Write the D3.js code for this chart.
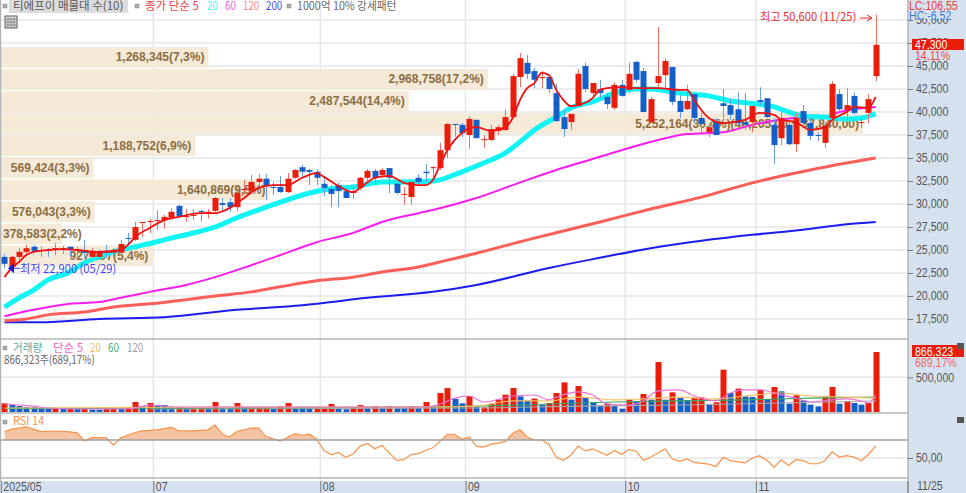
<!DOCTYPE html>
<html>
<head>
<meta charset="utf-8">
<script src="https://cdn.jsdelivr.net/npm/d3@7"></script>
<style>
  html, body { margin: 0; padding: 0; background: #fff; overflow: hidden; }
  svg { display: block; }
  text { font-family: "Liberation Sans", "Noto Sans CJK KR", sans-serif; }
  .axis path { display: none; }
  .axis line { stroke: #777; }
  .axis text { fill: #555; font-size: 12px; }
</style>
</head>
<body>
<div id="chart"></div>
<script>
// ### daily candles ###
const opens = [24250,23150,24250,24800,25350,25000,25000,25100,25100,25350,
  24900,25000,24250,24250,24900,24700,24700,26300,26100,27950,
  28050,28150,28250,28500,29800,28600,28700,29250,29050,29250,
  30100,30200,29650,31500,31400,32400,32750,31850,31850,31300,
  32850,34000,33700,33500,32200,31650,32050,31400,31200,31750,
  32850,33600,33150,33900,32200,31000,30750,32850,33500,33900,
  33900,35850,38700,38600,37500,39150,36950,36950,37950,38050,
  39450,43800,45350,44450,43700,43800,42050,39450,38900,40650,
  45000,42050,42500,41650,40450,42950,42400,45450,44450,38900,
  43150,44000,44900,41200,40300,41950,39350,37800,38900,40950,
  40750,40300,38900,38900,41300,41500,38600,37150,38600,36500,
  40100,38800,37500,36650,39350,41950,40200,41750,38800,39900,43900];
const highs = [24550,24350,25200,25550,25550,25350,25200,25750,25450,25350,
  25350,26100,25200,25100,25550,25200,26100,26850,28050,28050,
  28400,29350,28800,29550,29900,29450,29450,29350,29450,30750,
  30650,30650,31750,32600,33150,33250,33250,32400,33050,33350,
  33800,34250,33800,33800,32850,32050,32300,31650,32050,32950,
  33800,33800,33900,33900,32300,31850,32400,33250,34350,34150,
  36650,38800,38700,38800,39550,39150,37500,38600,38600,40300,
  44150,46400,46200,44800,44450,43800,43050,40200,39800,44650,
  45350,43150,43500,42050,43250,43500,45350,45550,44800,41650,
  49250,45850,44900,41850,42950,41950,39900,38800,39350,42500,
  41500,42150,42050,40650,42700,41500,39350,40000,39350,39900,
  40750,39350,37800,38900,43350,42500,42600,42150,39450,41950,50600];
const lows = [23000,22900,23900,24450,24700,24250,24250,24450,24550,24250,
  24250,24150,24150,23900,24150,24250,24450,25550,26000,26400,
  26850,27200,27300,28500,28700,28050,28250,28050,28400,29150,
  29150,29150,29250,31000,31300,31500,30450,31000,31200,31200,
  32750,32850,32050,32050,30850,29650,29650,30650,30550,31500,
  32400,32050,32850,31200,31000,29900,29900,32050,32400,32850,
  33700,35000,37300,37300,36000,37150,36100,36850,37500,37950,
  39350,42700,43600,42600,42600,42050,39000,37300,38050,40650,
  42150,41500,41500,40300,40200,41650,42050,43250,40000,38800,
  42500,42600,40750,39350,40200,38800,37700,37300,37500,39350,
  39150,38600,38050,37800,40750,39350,34350,36400,36400,35650,
  38600,36950,36850,36100,39150,40000,39150,39700,38250,38800,43350];
const closes = [23500,24250,24800,25200,24900,24900,24900,25200,25200,25000,
  25000,24700,24900,24800,24700,24900,25650,26200,27500,28050,
  28150,28250,28600,29150,28700,28700,28800,29150,29150,30650,
  29900,29650,31200,31650,32400,32750,31950,31750,31300,32750,
  33700,33500,33500,32850,31750,31100,31400,30650,31400,32850,
  33600,32850,33700,32850,31200,31100,32400,32400,33350,34000,
  35850,38700,38600,37700,39250,37150,37050,38150,38350,39450,
  43900,45850,44150,43500,43800,42500,39000,38150,39800,44150,
  42500,43150,42050,40850,42950,41750,44150,43500,40000,41400,
  43900,45550,41100,40000,41200,39350,38700,38350,37500,40650,
  39700,38800,38600,40650,41100,39450,36400,39350,36500,39350,
  38800,37400,37400,38500,43050,40300,40750,39900,38900,41400,47300];

// moving averages: candle index + price, only where read
const ma5Idx = [0,1,2,3,4,6,8,10,13,16,17,18,20,22,24,27,29,31,33,35,37,39,41,43,44,46,48,49,51,53,55,57,58,59,60,61,62,63,64,65,67,69,70,71,72,73,74,75,76,77,78,79,81,82,83,85,87,90,93,94,95,96,97,99,102,104,106,107,109,111,113,114,116,117,119,120];
const ma5 = [22050,23050,23700,24450,24800,25000,25100,25000,24800,25000,25550,26400,27400,28250,28600,29000,29000,29550,30650,31750,32050,32050,32850,33350,32950,31950,31300,31750,32850,33050,32300,32050,32050,32600,34250,35850,36950,37700,38250,38350,37950,38350,39350,41300,42600,43150,44250,44000,42400,41300,40650,40750,41500,42400,42600,42700,42600,42600,42400,42400,41300,40200,39350,38800,39150,39900,39700,39150,38900,38050,38350,39150,40000,40550,40450,41650];
const ma20Idx = [0,2,4,6,9,11,13,15,18,21,23,26,29,32,36,38,42,45,48,52,55,59,63,66,69,71,73,76,78,81,84,87,89,93,97,100,104,106,108,110,113,116,118,120];
const ma20 = [18800,19800,20650,21750,22600,23600,24250,24800,25350,25900,26300,26850,27500,28500,29650,30200,31200,31650,31850,32400,32400,32500,33500,34450,35550,36750,38050,39450,40450,41100,42050,42500,42500,42050,41750,41200,40850,40550,40000,39550,39450,39250,39350,39800];
const ma60Idx = [0,4,9,13,16,20,25,29,34,38,43,48,52,57,59,65,70,76,80,85,90,94,99,103,109,113,115,120];
const ma60 = [17800,18500,19150,19350,19800,20450,21200,22050,23350,24450,25850,26850,28050,29000,29350,30650,32050,33700,34650,35850,36950,37600,37800,38600,39350,39450,40000,40550];
const ma120Idx = [0,3,6,11,15,20,25,29,34,38,43,48,52,57,61,65,72,82,89,96,103,111,116,120];
const ma120 = [17300,17500,17950,18250,18800,19150,19600,20000,20450,21000,21650,22050,22600,23150,23900,24650,26100,28050,29450,30750,32300,33700,34450,35000];
const ma200Idx = [0,5,13,22,32,41,50,59,65,75,82,89,96,103,110,116,120];
const ma200 = [17150,17150,17500,17700,18500,19000,19800,20450,21200,23050,24150,25200,26000,26650,27200,27800,28050];

// volume profile rows, top to bottom
const profileVol = [1268345,2968758,2487544,5252164,1188752,569424,1640869,576043,378583,927097];
const profileLabels = ["1,268,345(7,3%)","2,968,758(17,2%)","2,487,544(14,4%)","5,252,164(30,4%)(40,205,00 ~ 37,840,00)","1,188,752(6,9%)","569,424(3,3%)","1,640,869(9,5%)","576,043(3,3%)","378,583(2,2%)","927,097(5,4%)"];

// volume
const volumes = [125000,100000,85000,72000,72000,55000,55000,45000,45000,45000,
  45000,45000,35000,35000,45000,45000,45000,70000,145000,85000,
  130000,100000,100000,70000,70000,55000,55000,55000,55000,145000,
  55000,55000,130000,75000,70000,70000,70000,45000,85000,130000,
  65000,68000,68000,68000,68000,115000,58000,40000,68000,100000,
  58000,85000,58000,85000,58000,58000,85000,58000,145000,85000,
  275000,345000,190000,125000,230000,72000,67000,120000,178000,250000,
  347000,226000,164000,193000,106000,130000,274000,428000,178000,375000,
  212000,140000,91000,120000,91000,48000,188000,154000,260000,178000,
  722000,178000,284000,202000,173000,202000,212000,106000,140000,611000,
  274000,337000,226000,217000,322000,188000,361000,298000,120000,240000,
  168000,106000,82000,226000,361000,120000,154000,130000,106000,130000,866323];
const volUp = [1,0,0,0,0,0,0,1,0,1,0,1,0,0,1,1,0,1,1,0,1,0,0,0,1,0,1,1,0,1,0,0,1,0,1,1,1,0,1,1,
  0,0,0,1,1,1,0,0,1,1,0,1,0,1,0,0,1,0,1,0,1,1,0,0,1,0,1,1,1,1,1,0,0,1,0,1,1,1,0,1,
  0,0,0,1,0,0,1,0,1,0,1,0,1,0,0,1,1,0,1,1,0,1,0,0,1,0,1,0,0,1,0,0,0,1,1,0,1,0,0,1,1];
const vma5Idx = [0,2,4,6,10,16,18,20,24,28,58,60,62,64,66,70,73,75,76,79,81,83,86,88,90,93,95,98,100,102,104,107,109,111,114,116,118,119,120];
const vma5 = [115000,100000,85000,58000,43000,43000,58000,100000,72000,72000,72000,115000,200000,230000,145000,230000,245000,175000,215000,290000,245000,115000,100000,160000,305000,320000,230000,160000,275000,320000,320000,245000,200000,145000,175000,190000,160000,130000,245000];
const vma20Idx = [0,30,58,65,70,75,79,84,88,93,98,102,107,111,116,120];
const vma20 = [58000,72000,72000,85000,160000,160000,215000,175000,190000,215000,190000,230000,275000,230000,215000,200000];
const vma60Idx = [0,30,58,65,75,84,93,102,111,120];
const vma60 = [50000,58000,72000,85000,115000,145000,160000,175000,200000,215000];
const vma120Idx = [20,65,79,93,107,120];
const vma120 = [43000,58000,85000,100000,130000,160000];

// RSI 14
const rsiIdx = [0,1,3,5,7,9,10,11,12,14,15,16,18,19,21,23,24,26,28,29,30,31,32,34,35,36,38,40,41,42,43,44,45,46,47,48,49,50,51,52,53,54,55,56,57,58,59,61,62,63,64,65,66,67,69,70,71,72,73,74,75,76,77,78,79,80,81,83,84,85,86,87,88,89,91,92,93,94,95,97,98,99,100,102,103,104,105,106,107,108,109,110,111,112,113,114,115,116,117,118,119,120];
const rsi = [79.4,82,84.5,79.4,80,79,78,69,72.6,72.6,64.3,72.6,78.3,80.2,81.3,84,80.2,80.2,81.3,86.6,76.4,73.4,79.4,83.2,83.2,73.8,68.9,77.2,75.3,76.4,70.8,58.3,53.8,56,50.8,54.5,63.2,66.2,60.2,64,55.7,47.4,48.1,53.8,54.9,58.3,61.3,76.4,76.4,70.8,73.4,63.2,62.1,65.1,68.1,77.5,81.3,73.4,70,70,65.1,50.8,47.4,53,63.2,57.9,60.2,53,58.3,53.8,59.4,57.5,47.4,50.8,60.2,48.9,46.2,48.9,45.1,43.2,40.6,50.8,47,44.7,50,52.6,47.4,39.8,48.1,41.7,48.1,47,43.6,43.6,47,56.8,51.1,52.6,51.1,47,53.8,63.2];

// axes
const priceTicks = [17500,20000,22500,25000,27500,30000,32500,35000,37500,40000,42500,45000,47500,50000];
const volTicks = [500000];
const rsiTicks = [50];
const monthIdx = [0,21,44,64,86,104];
const monthLabels = ["2025/05","07","08","09","10","11"];

const RED = "#ea1c0a", BLUE = "#1560c8";
const W = 966, H = 493, plotR = 908;
const n = opens.length;

const svg = d3.select("#chart").append("svg").attr("width", W).attr("height", H);

const x = d3.scaleLinear().domain([0, n]).range([0.87, 879.3]);
const yPrice = d3.scaleLinear().domain([45000, 17500]).range([66, 319]);
const yVol = d3.scaleLinear().domain([0, 866323]).range([412, 352]);
const yRsi = d3.scaleLinear().domain([50, 70]).range([458, 440]);
const profW = d3.scaleLinear().domain([0, 5252164]).range([0, 863]);
const profRow = d3.scaleBand().domain(d3.range(profileVol.length)).range([yPrice(47050), yPrice(23250)]).paddingInner(0.07);

const cx = i => x(i + 0.5);
const maLine = (yScale, idx) => d3.line().x((d, k) => cx(idx[k])).y(d => yScale(d)).curve(d3.curveMonotoneX);

// the reference font is narrower than anything installed, so pinch the glyphs
function squeeze(sel, k) {
  sel.each(function() {
    this.setAttribute("textLength", this.getComputedTextLength() * k);
    this.setAttribute("lengthAdjust", "spacingAndGlyphs");
  });
  return sel;
}

// ### right and bottom panels ###
svg.append("rect").attr("x", plotR).attr("y", 0).attr("width", W - plotR).attr("height", H).attr("fill", "#d6e1ef");
svg.append("rect").attr("x", 0).attr("y", 481).attr("width", W).attr("height", H - 481).attr("fill", "#d6e1ef");

// ### grid ###
const grid = svg.append("g").attr("stroke", "#e6e6e6").attr("stroke-width", 1.5);
priceTicks.forEach(t => {
  grid.append("line").attr("x1", 0).attr("x2", plotR).attr("y1", yPrice(t)).attr("y2", yPrice(t));
});
grid.append("line").attr("x1", 0).attr("x2", plotR).attr("y1", yVol(500000)).attr("y2", yVol(500000));
grid.append("line").attr("x1", 0).attr("x2", plotR).attr("y1", yRsi(50)).attr("y2", yRsi(50));
monthIdx.slice(1).forEach(i => {
  grid.append("line").attr("x1", x(i)).attr("x2", x(i)).attr("y1", 0).attr("y2", 481);
});

// ### volume profile ###
svg.selectAll("rect.prof").data(profileVol).enter().append("rect")
  .attr("class", "prof")
  .attr("x", 0)
  .attr("y", (d, i) => profRow(i))
  .attr("width", d => profW(d))
  .attr("height", profRow.bandwidth())
  .attr("fill", "#f5e9d8");
svg.selectAll("text.prof").data(profileVol).enter().append("text")
  .attr("class", "prof")
  .attr("y", (d, i) => profRow(i) + profRow.bandwidth() / 2 + 4)
  .attr("text-anchor", "end")
  .attr("fill", "#8c6e3e")
  .attr("font-size", 12)
  .attr("font-weight", "bold")
  .text((d, i) => profileLabels[i])
  .attr("x", function(d) { return Math.max(profW(d) - 4, this.getComputedTextLength() + 3); });

// ### price moving averages ###
const priceLines = [
  {v: ma200, idx: ma200Idx, c: "#1c1cf0", w: 2},
  {v: ma120, idx: ma120Idx, c: "#fa5f5a", w: 3},
  {v: ma60, idx: ma60Idx, c: "#fb1cf0", w: 2},
  {v: ma20, idx: ma20Idx, c: "#10f4f4", w: 5}
];
priceLines.forEach(l => {
  svg.append("path").attr("d", maLine(yPrice, l.idx)(l.v))
    .attr("fill", "none").attr("stroke", l.c).attr("stroke-width", l.w);
});

// ### candles ###
const candle = svg.selectAll("g.candle").data(d3.range(n)).enter().append("g").attr("class", "candle");
candle.append("line")
  .attr("x1", i => Math.round(cx(i)) + 0.5).attr("x2", i => Math.round(cx(i)) + 0.5)
  .attr("y1", i => yPrice(highs[i])).attr("y2", i => yPrice(lows[i]))
  .attr("stroke", i => closes[i] >= opens[i] ? "#f0706a" : "#6a9be0");
candle.append("rect")
  .attr("x", i => Math.round(cx(i)) - 2.5)
  .attr("width", 6)
  .attr("y", i => yPrice(Math.max(opens[i], closes[i])))
  .attr("height", i => Math.max(1, Math.abs(yPrice(opens[i]) - yPrice(closes[i]))))
  .attr("fill", i => closes[i] >= opens[i] ? RED : BLUE);

svg.append("path").attr("d", maLine(yPrice, ma5Idx)(ma5))
  .attr("fill", "none").attr("stroke", "#f01010").attr("stroke-width", 1.8);

// ### volume panel ###
svg.selectAll("rect.vol").data(volumes).enter().append("rect")
  .attr("class", "vol")
  .attr("x", (d, i) => Math.round(cx(i)) - 2.5)
  .attr("width", 6)
  .attr("y", d => yVol(d))
  .attr("height", d => yVol(0) - yVol(d))
  .attr("fill", (d, i) => volUp[i] ? RED : BLUE);
[
  {v: vma120, idx: vma120Idx, c: "#a8a8a8"},
  {v: vma60, idx: vma60Idx, c: "#3aa864"},
  {v: vma20, idx: vma20Idx, c: "#f5c060"},
  {v: vma5, idx: vma5Idx, c: "#f070d8"}
].forEach(l => {
  svg.append("path").attr("d", maLine(yVol, l.idx)(l.v))
    .attr("fill", "none").attr("stroke", l.c).attr("stroke-width", 1.1);
});

// ### RSI panel ###
svg.append("clipPath").attr("id", "rsiTop").append("rect")
  .attr("x", 0).attr("y", 414).attr("width", plotR).attr("height", yRsi(70) - 414);
svg.append("path")
  .attr("d", d3.area().x((d, k) => cx(rsiIdx[k])).y0(yRsi(70)).y1(d => yRsi(d))(rsi))
  .attr("fill", "#f6c4a2").attr("clip-path", "url(#rsiTop)");
svg.append("path")
  .attr("d", d3.line().x((d, k) => cx(rsiIdx[k])).y(d => yRsi(d))(rsi))
  .attr("fill", "none").attr("stroke", "#f8914a").attr("stroke-width", 1.2);

// ### panel dividers ###
const div = svg.append("g").attr("stroke", "#b4b4b4").attr("stroke-width", 1.5);
[339, 413, 478].forEach(y => div.append("line").attr("x1", 0).attr("x2", plotR).attr("y1", y).attr("y2", y));
div.append("line").attr("x1", 0).attr("x2", plotR).attr("y1", yRsi(70)).attr("y2", yRsi(70)).attr("stroke", "#a0a0a0");
div.append("line").attr("x1", plotR).attr("x2", plotR).attr("y1", 0).attr("y2", H);
div.append("line").attr("x1", 0.5).attr("x2", 0.5).attr("y1", 0).attr("y2", 481);

// ### axes ###
const priceAxis = svg.append("g").attr("class", "axis").attr("transform", `translate(${plotR},0)`)
  .call(d3.axisRight(yPrice).tickValues(priceTicks).tickFormat(d3.format(",")).tickSize(5).tickPadding(3));
const volAxis = svg.append("g").attr("class", "axis").attr("transform", `translate(${plotR},0)`)
  .call(d3.axisRight(yVol).tickValues(volTicks).tickFormat(d3.format(",")).tickSize(5).tickPadding(3));
const rsiAxis = svg.append("g").attr("class", "axis").attr("transform", `translate(${plotR},0)`)
  .call(d3.axisRight(yRsi).tickValues(rsiTicks).tickFormat(d => d + ",00").tickSize(5).tickPadding(3));
const dateAxis = svg.append("g").attr("class", "axis").attr("transform", "translate(0,481)")
  .call(d3.axisBottom(x).tickValues(monthIdx).tickFormat((d, k) => monthLabels[k]).tickSize(12).tickPadding(0));
dateAxis.selectAll("text").attr("text-anchor", "start").attr("dx", 2).attr("y", 1).attr("dy", "0.71em");
[priceAxis, volAxis, rsiAxis, dateAxis].forEach(a => squeeze(a.selectAll("text"), 0.88));

// axis end label
squeeze(svg.append("text").attr("x", 917).attr("y", 490).attr("fill", "#555").attr("font-size", 12).text("11/25"), 0.88);
svg.append("line").attr("x1", plotR).attr("x2", plotR).attr("y1", 481).attr("y2", H).attr("stroke", "#777");

// ### right panel labels ###
function sideText(txt, py, color) {
  return squeeze(svg.append("text").attr("x", 915).attr("y", py).attr("fill", color).attr("font-size", 12).text(txt), 0.88);
}
svg.append("rect").attr("x", plotR + 1).attr("y", 0).attr("width", W - plotR - 1).attr("height", 19).attr("fill", "#d6e1ef");
sideText("LC:106,55", 9.5, "#e8403a").attr("x", 909);
sideText("HC:-6,52", 20, "#3a78d8").attr("x", 909);
svg.append("rect").attr("x", 912).attr("y", 39).attr("width", 52).attr("height", 11).attr("fill", RED);
sideText("47,300", 49, "#fff");
sideText("14,11%", 59.5, "#ee4a42");
svg.append("rect").attr("x", 912).attr("y", 345).attr("width", 52).attr("height", 12).attr("fill", RED);
sideText("866,323", 355.5, "#fff");
sideText("689,17%", 367, "#ee6a62");
[343, 417].forEach(y => svg.append("rect").attr("x", 957).attr("y", y).attr("width", 7).attr("height", 6).attr("fill", "#555"));

// ### legends ###
function bullet(px, py) {
  svg.append("rect").attr("x", px).attr("y", py).attr("width", 4).attr("height", 4)
    .attr("fill", "#aaa").attr("stroke", "#888").attr("stroke-width", 0.5);
}
function label(txt, px, py, color, k) {
  const t = svg.append("text").attr("x", px).attr("y", py).attr("fill", color)
    .attr("font-size", 11.5)
    .style("font-family", "'Noto Sans CJK KR', sans-serif").text(txt);
  return k ? squeeze(t, k) : t;
}
bullet(3, 4);
svg.append("rect").attr("x", 9).attr("y", 0).attr("width", 119).attr("height", 13).attr("fill", "#dcdcdc");
label("티에프이 매물대 수(10)", 13, 10, "#555");
bullet(135, 4);
label("종가 단순 5", 145, 10, "#f4404a");
label("20", 207, 10, "#4ff0f0", 0.85);
label("60", 225, 10, "#f458f0", 0.85);
label("120", 243, 10, "#f88a88", 0.85);
label("200", 266, 10, "#4848f0", 0.85);
bullet(287, 4);
label("1000억 10% 강세패턴", 297, 10, "#666", 0.93);

bullet(3, 346);
label("거래량", 13, 352, "#5aa8a8", 0.92);
label("단순 5", 53, 352, "#ec66cc");
label("20", 90, 352, "#f4bc60", 0.85);
label("60", 108, 352, "#48b070", 0.85);
label("120", 127, 352, "#a0a0a0", 0.85);
label("866,323주(689,17%)", 4, 364, "#666", 0.86);
bullet(3, 420);
label("RSI 14", 13, 425, "#f8914a", 0.95);

// table icon
const icon = svg.append("g").attr("transform", "translate(5,16)");
icon.append("rect").attr("width", 12).attr("height", 12).attr("fill", "#ddd").attr("stroke", "#555");
d3.range(1, 4).forEach(k => {
  icon.append("line").attr("x1", k * 3).attr("x2", k * 3).attr("y1", 2).attr("y2", 11).attr("stroke", "#888");
  icon.append("line").attr("y1", k * 3).attr("y2", k * 3).attr("x1", 1).attr("x2", 11).attr("stroke", "#888");
});

// ### high / low notes ###
label("최고 50,600 (11/25)", 760, 21, "#ee2c2c", 0.97);
svg.append("line").attr("x1", 860).attr("x2", 872).attr("y1", 18).attr("y2", 18).attr("stroke", "#ee2c2c");
svg.append("path").attr("d", "M867,15 L872,18 L867,21").attr("fill", "none").attr("stroke", "#ee2c2c");
label("최저 22,900 (05/29)", 20, 273, "#3e3ef0", 0.97);
svg.append("line").attr("x1", 10).attr("x2", 20).attr("y1", yPrice(lows[1]) - 1).attr("y2", yPrice(lows[1]) - 1).attr("stroke", "#3e3ef0");
svg.append("path").attr("d", `M8,${yPrice(lows[1]) - 1} l6,-5 l0,10 z`).attr("fill", "#1c1cd8");
</script>
</body>
</html>
